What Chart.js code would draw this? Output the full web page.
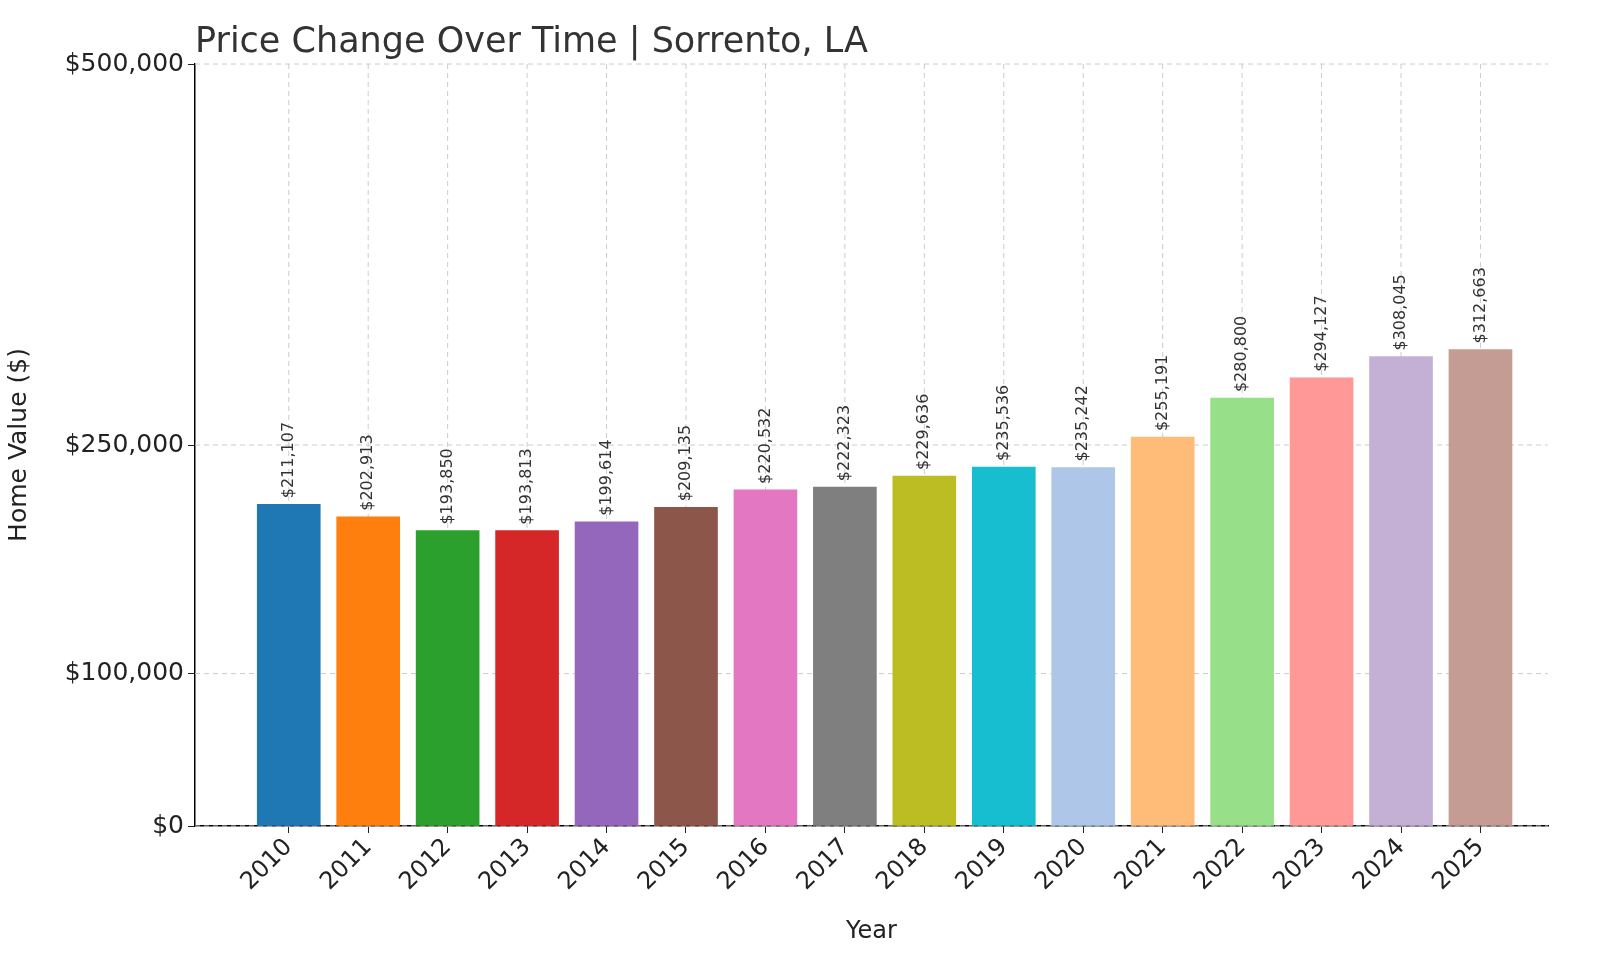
<!DOCTYPE html>
<html>
<head>
<meta charset="utf-8">
<script src="https://cdn.jsdelivr.net/npm/chart.js@4/dist/chart.umd.min.js"></script>
<style>
  html, body { margin: 0; padding: 0; background: #fff; overflow: hidden; }
  #wrap { width: 1600px; height: 960px; }
</style>
</head>
<body>
<div id="wrap"><canvas id="priceChart" width="1600" height="960"></canvas></div>
<script>
var years = ['2010','2011','2012','2013','2014','2015','2016','2017','2018','2019','2020','2021','2022','2023','2024','2025'];
var homeValues = [211107, 202913, 193850, 193813, 199614, 209135, 220532, 222323, 229636, 235536, 235242, 255191, 280800, 294127, 308045, 312663];
var barColors = ['#1f77b4','#ff7f0e','#2ca02c','#d62728','#9467bd','#8c564b','#e377c2','#7f7f7f','#bcbd22','#17becf','#aec7e8','#ffbb78','#98df8a','#ff9896','#c5b0d5','#c49c94'];
var yTicks = [0, 100000, 250000, 500000];
var titleText = 'Price Change Over Time | Sorrento, LA';
var font = 'DejaVu Sans';

function money(v) { return '$' + v.toLocaleString('en-US'); }

// dashed grid drawn under the bars
var gridPlugin = {
    id: 'dashGrid',
    beforeDatasetsDraw: function (chart) {
        var ctx = chart.ctx, a = chart.chartArea;
        var xs = chart.scales.x, ys = chart.scales.y;
        ctx.save();
        ctx.strokeStyle = '#cccccc';
        ctx.lineWidth = 1;
        ctx.setLineDash([5, 4]);
        years.forEach(function (y, i) {
            var px = xs.getPixelForValue(i);
            ctx.beginPath(); ctx.moveTo(px, a.top); ctx.lineTo(px, a.bottom); ctx.stroke();
        });
        yTicks.forEach(function (v) {
            var py = ys.getPixelForValue(v);
            ctx.beginPath(); ctx.moveTo(a.left, py); ctx.lineTo(a.right, py); ctx.stroke();
        });
        ctx.restore();
    }
};

// bar value labels + title
var labelPlugin = {
    id: 'valueLabels',
    afterDatasetsDraw: function (chart) {
        var ctx = chart.ctx;
        var meta = chart.getDatasetMeta(0);
        ctx.save();
        ctx.fillStyle = '#333';
        ctx.font = '16px "' + font + '"';
        ctx.textAlign = 'left';
        ctx.textBaseline = 'middle';
        meta.data.forEach(function (bar, i) {
            ctx.save();
            ctx.translate(bar.x, bar.y - 6);
            ctx.rotate(-Math.PI / 2);
            ctx.fillText(money(homeValues[i]), 0, 0);
            ctx.restore();
        });
        ctx.font = '35px "' + font + '"';
        ctx.textBaseline = 'alphabetic';
        ctx.fillText(titleText, chart.chartArea.left, 52);
        ctx.restore();
    }
};

var ctx = document.getElementById('priceChart').getContext('2d');
new Chart(ctx, {
    type: 'bar',
    data: {
        datasets: [{
            data: homeValues.map(function (v, i) { return { x: i, y: v }; }),
            backgroundColor: barColors,
            barThickness: 63
        }]
    },
    options: {
        responsive: false,
        animation: false,
        layout: { padding: { top: 64, right: 52, left: 0, bottom: 0 } },
        plugins: { legend: { display: false }, tooltip: { enabled: false } },
        scales: {
            x: {
                type: 'linear',
                min: -1.18,
                max: 15.85,
                offset: false,
                afterBuildTicks: function (scale) {
                    scale.ticks = years.map(function (y, i) { return { value: i }; });
                },
                afterFit: function (scale) { scale.height = 134; },
                ticks: {
                    callback: function (v) { return years[v]; },
                    minRotation: 45, maxRotation: 45,
                    padding: 0,
                    color: '#222',
                    font: { family: font, size: 24 }
                },
                grid: { offset: false, color: 'rgba(0,0,0,0)', tickLength: 7, tickColor: '#222' },
                border: { color: '#000', width: 1.5 },
                title: { display: true, text: 'Year', color: '#222', font: { family: font, size: 24 }, padding: { top: 0, bottom: 14 } }
            },
            y: {
                min: 0,
                max: 500000,
                afterBuildTicks: function (scale) {
                    scale.ticks = yTicks.map(function (v) { return { value: v }; });
                },
                afterFit: function (scale) { scale.width = 195; },
                ticks: {
                    callback: function (v) { return money(v); },
                    padding: 4,
                    color: '#222',
                    font: { family: font, size: 25 }
                },
                grid: { color: 'rgba(0,0,0,0)', tickLength: 7, tickColor: '#222' },
                border: { color: '#000', width: 1.5 },
                title: { display: true, text: 'Home Value ($)', color: '#222', font: { family: font, size: 25 } }
            }
        }
    },
    plugins: [gridPlugin, labelPlugin]
});
</script>
</body>
</html>
